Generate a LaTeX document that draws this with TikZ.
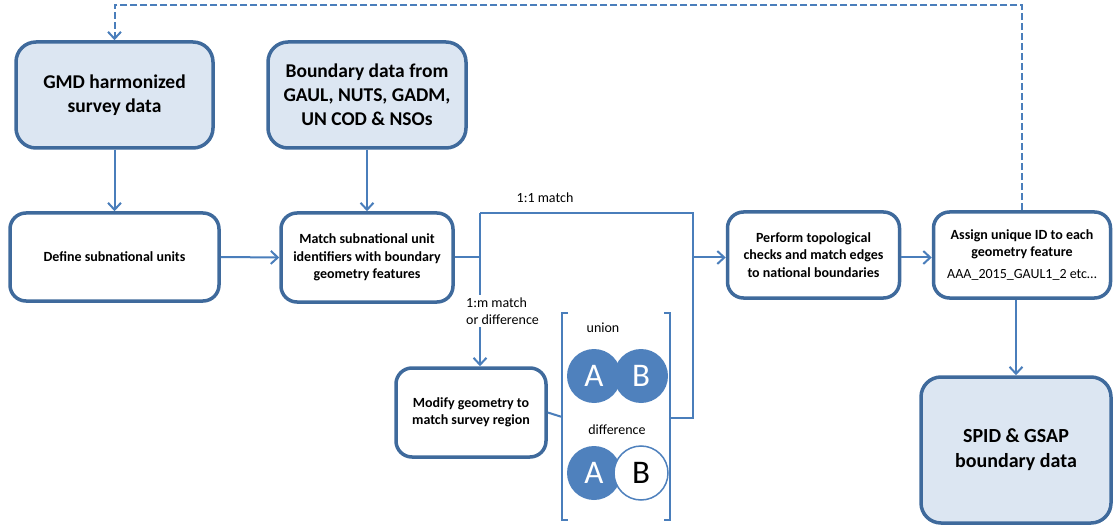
\documentclass[tikz,border=0pt]{standalone}
\usepackage{fontspec}
\setmainfont{Carlito}
\usetikzlibrary{arrows.meta}

\definecolor{boxline}{HTML}{3F6A9C}
\definecolor{boxfill}{HTML}{DCE6F2}
\definecolor{conline}{HTML}{4A7EBB}
\definecolor{setblue}{HTML}{4F81BD}

\tikzset{
  bigbox/.style={draw=boxline,line width=3.5pt,fill=boxfill,rounded corners=20pt,
    align=center,font=\fontsize{19.5}{24}\selectfont\bfseries},
  smallbox/.style={draw=boxline,line width=3.5pt,fill=white,rounded corners=16pt,
    align=center,font=\fontsize{14}{17.5}\selectfont\bfseries},
  conn/.style={draw=conline,line width=2pt},
  arr/.style={conn,-{Straight Barb[length=7pt,width=13pt,line width=2pt]}},
  lbl/.style={fill=white,font=\fontsize{14}{17}\selectfont,inner sep=3pt},
  setcirc/.style={circle,minimum size=54pt,inner sep=0pt,font=\fontsize{33}{33}\selectfont}
}

\begin{document}
\begin{tikzpicture}[x=1pt,y=-1pt]
\useasboundingbox (0,0) rectangle (1113,529);

% inputs
\node[bigbox,minimum width=197pt,minimum height=106pt] (gmd) at (114.5,95) {GMD harmonized\\survey data};
\node[bigbox,minimum width=198pt,minimum height=106pt] (bnd) at (367,95) {Boundary data from\\GAUL, NUTS, GADM,\\UN COD \& NSOs};

% processing steps
\node[smallbox,minimum width=209pt,minimum height=88pt] (define) at (114.5,257) {Define subnational units};
\node[smallbox,minimum width=172pt,minimum height=89pt] (match) at (367,257.5) {Match subnational unit\\identifiers with boundary\\geometry features};
\node[smallbox,minimum width=172pt,minimum height=86pt] (perform) at (813.5,255) {Perform topological\\checks and match edges\\to national boundaries};
\node[smallbox,minimum width=177pt,minimum height=86pt] (assign) at (1022,255) {Assign unique ID to each\\geometry feature\\[4pt]{\mdseries AAA\_2015\_GAUL1\_2 etc…}};
\node[smallbox,minimum width=150pt,minimum height=89pt] (modify) at (471,412.5) {Modify geometry to\\match survey region};

% output
\node[bigbox,minimum width=190pt,minimum height=146pt,font=\fontsize{20}{25}\selectfont\bfseries] (spid) at (1016,450) {SPID \& GSAP\\boundary data};

% junction points
\coordinate (j1) at (480,257.5);
\coordinate (j2) at (480,213);
\coordinate (k1) at (693,213);
\coordinate (k2) at (693,418);
\coordinate (k3) at (693,257.5);

% arrows
\draw[arr] (gmd) -- (define);
\draw[arr] (bnd) -- (match);
\draw[arr] (define.east) -- (match.west);
\draw[conn] (match.east) -- (j1);
\draw[conn] (j2) -- (k1) -- (k2) -- (670,418);
\draw[arr] (j2) -- (modify.north -| j2);
\node[lbl,align=left,anchor=west] (lm) at (463,311) {1:m match\\or difference};
\draw[arr] (k3) -- (perform.west |- k3);
\draw[arr] (perform.east |- 0,257.5) -- (assign.west |- 0,257.5);
\draw[arr] (assign.south -| spid) -- (spid.north);
\draw[arr,dashed,dash pattern=on 7pt off 3pt] (assign.north) -- (1022,5) -- (114.5,5) -- (gmd.north);
\node[lbl] (one) at (545,198) {1:1 match};

% brackets
\draw[conn] (568,313) -- (562,313) -- (562,520) -- (568,520);
\draw[conn] (664,313) -- (670,313) -- (670,520) -- (664,520);
\draw[conn] (modify.east) -- (562,417);

% union
\node[lbl,fill=none] (un) at (603,328) {union};
\node[setcirc,fill=setblue,text=white] (ua) at (594,376) {A};
\node[setcirc,fill=setblue,text=white] (ub) at (641,376) {B};

% difference
\node[lbl,fill=none] (df) at (617,430) {difference};
\node[setcirc,fill=setblue,text=white] (da) at (594,473) {A};
\node[setcirc,fill=white,draw=setblue,line width=1.5pt,minimum size=54pt] (db) at (641,473) {B};

\end{tikzpicture}
\end{document}
